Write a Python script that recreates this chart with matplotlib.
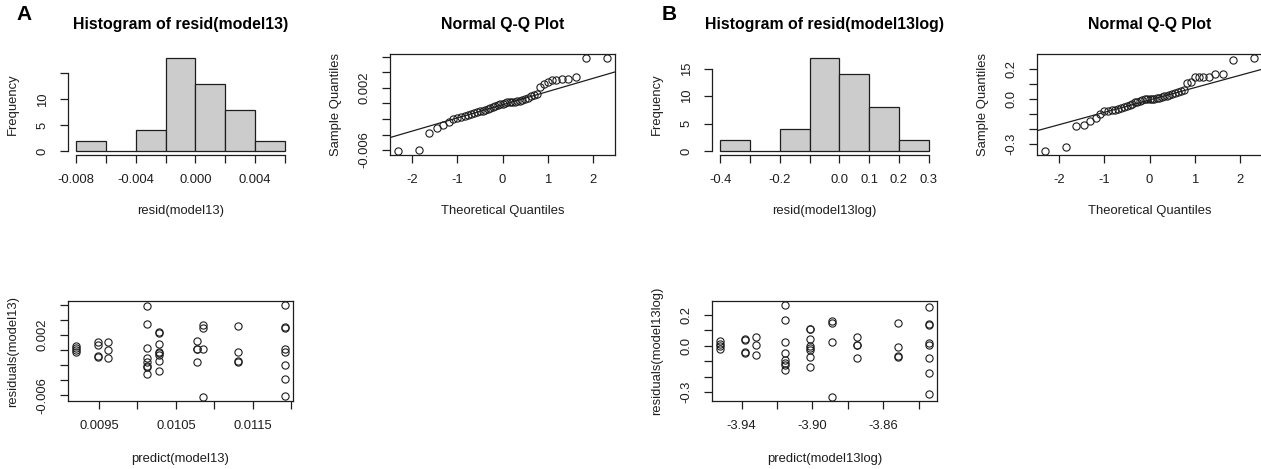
import statistics
import numpy as np
import matplotlib
matplotlib.use('Agg')
import matplotlib.pyplot as plt

plt.rcParams['font.family'] = ['Liberation Sans', 'DejaVu Sans']

# residuals of model13 (sorted)
resid_a = [-0.00616, -0.00603, -0.00376, -0.00314, -0.00275, -0.0024, -0.00198, -0.00192,
           -0.0017, -0.0016, -0.00153, -0.0014, -0.00122, -0.00109, -0.001, -0.00092,
           -0.00079, -0.00066, -0.00057, -0.00044, -0.0003, -0.00022, -0.00009, -0.00002,
           0.00009, 0.00013, 0.00017, 0.00018, 0.00022, 0.00026, 0.00035, 0.00048,
           0.00061, 0.00074, 0.00092, 0.00105, 0.00122, 0.00214, 0.00249, 0.0028,
           0.00297, 0.00306, 0.00314, 0.00319, 0.00336, 0.00581, 0.0059]
breaks_a = [-0.008, -0.006, -0.004, -0.002, 0.0, 0.002, 0.004, 0.006]

# residuals of model13log
resid_b = [-0.347, -0.32, -0.18, -0.169, -0.144, -0.124, -0.098, -0.08, -0.0756, -0.073,
           -0.069, -0.064, -0.058, -0.051, -0.047, -0.04, -0.031, -0.02, -0.016, -0.009,
           -0.004, -0.002, -0.001, 0.001, 0.002, 0.004, 0.007, 0.009, 0.013, 0.02, 0.024,
           0.031, 0.036, 0.04, 0.047, 0.053, 0.06, 0.107, 0.116, 0.147, 0.149, 0.149,
           0.149, 0.167, 0.169, 0.262, 0.276]
breaks_b = [-0.4, -0.3, -0.2, -0.1, 0.0, 0.1, 0.2, 0.3]

# residuals vs predicted, grouped by predicted value
pred_levels_a = [0.009203, 0.009491, 0.009614, 0.01012, 0.010277, 0.010771, 0.010854, 0.011317, 0.011919]
resid_groups_a = [[0.0005, 0.0002, 0.0, -0.0002],
                  [0.001, 0.0007, -0.0008, -0.0009],
                  [0.0011, 0.00004, -0.00105],
                  [0.00585, 0.00338, 0.00026, -0.00105, -0.0016, -0.00207, -0.00229, -0.00321],
                  [0.00237, 0.0022, 0.00075, -0.00022, -0.0004, -0.00066, -0.0015, -0.00272],
                  [0.00123, 0.00013, 0.0001, -0.00163],
                  [0.0033, 0.0029, 0.00013, -0.00624],
                  [0.0032, -0.0003, -0.00149, -0.00163],
                  [0.00598, 0.00308, 0.00295, 0.00013, -0.0003, -0.00198, -0.00378, -0.00602]]

pred_levels_b = [-3.952, -3.9381, -3.9317, -3.9154, -3.9011, -3.8889, -3.875, -3.8516, -3.8343]
resid_groups_b = [[0.028, 0.011, -0.004, -0.022],
                  [0.045, 0.034, -0.039, -0.045],
                  [0.054, 0.002, -0.06],
                  [0.265, 0.163, 0.024, -0.045, -0.092, -0.112, -0.127, -0.159],
                  [0.11, 0.105, 0.041, -0.004, -0.017, -0.026, -0.071, -0.138],
                  [0.161, 0.146, 0.024, -0.333],
                  [0.058, 0.006, 0.002, -0.08],
                  [0.144, -0.011, -0.067, -0.073],
                  [0.252, 0.142, 0.135, 0.017, 0.004, -0.082, -0.176, -0.31]]

# tick labels (R drops the ones that would overlap)
hist_a_xlabels = ['-0.008', '', '-0.004', '', '0.000', '', '0.004', '']
hist_yticks = [0, 5, 10, 15]
hist_a_ylabels = ['0', '5', '10', '']
hist_b_xlabels = ['-0.4', '', '-0.2', '', '0.0', '0.1', '0.2', '0.3']
hist_b_ylabels = ['0', '5', '10', '15']
qq_xticks = [-2, -1, 0, 1, 2]
res_a_yticks = [-0.006, -0.004, -0.002, 0.0, 0.002, 0.004, 0.006]
res_a_ylabels = ['-0.006', '', '', '', '0.002', '', '']
res_b_yticks = [-0.3, -0.2, -0.1, 0.0, 0.1, 0.2]
res_b_ylabels = ['-0.3', '', '', '0.0', '', '0.2']
pred_a_xticks = [0.0095, 0.0100, 0.0105, 0.0110, 0.0115, 0.0120]
pred_a_xlabels = ['0.0095', '', '0.0105', '', '0.0115', '']
pred_b_xticks = [-3.94, -3.92, -3.90, -3.88, -3.86, -3.84]
pred_b_xlabels = ['-3.94', '', '-3.90', '', '-3.86', '']

ink = '#1e1e1e'
W, H = 1261, 469
fig = plt.figure(figsize=(W / 100, H / 100), dpi=100)


def px_axes(left, top, width, height):
    return fig.add_axes([left / W, 1 - (top + height) / H, width / W, height / H])


def style(ax):
    ax.tick_params(direction='out', length=5.5, width=0.9, labelsize=9.4, pad=8.5,
                   colors=ink)
    for s in ax.spines.values():
        s.set_linewidth(0.9)
        s.set_color(ink)
    for lab in ax.get_yticklabels():
        lab.set_rotation(90)
        lab.set_va('center')


def hist_panel(ax, resid, breaks, xlabels, ylabels, title, xlabel):
    counts, _, _ = ax.hist(resid, bins=breaks, color='#cccccc', edgecolor=ink, linewidth=0.9)
    span = breaks[-1] - breaks[0]
    ax.set_xlim(breaks[0] - 0.04 * span, breaks[-1] + 0.04 * span)
    ax.set_ylim(-0.04 * counts.max(), 1.04 * counts.max())
    ax.set_xticks(breaks, xlabels)
    ax.set_yticks(hist_yticks, ylabels)
    ax.spines[['top', 'right']].set_visible(False)
    ax.spines['bottom'].set_bounds(breaks[0], breaks[-1])
    ax.spines['left'].set_bounds(hist_yticks[0], hist_yticks[-1])
    style(ax)
    ax.set_title(title, fontsize=11.4, fontweight='bold', pad=18, color='black')
    ax.set_xlabel(xlabel, fontsize=9.4, labelpad=13.5, color=ink)
    ax.set_ylabel('Frequency', fontsize=9.4, labelpad=12.5, color=ink)


def qq_panel(ax, resid, yticks, ylabels):
    n = len(resid)
    nd = statistics.NormalDist()
    theo = [nd.inv_cdf((i - 0.5) / n) for i in range(1, n + 1)]
    ax.plot(theo, sorted(resid), 'o', mfc='none', mec=ink, ms=5.2, mew=0.8)
    ax.margins(0.04)
    q1, q3 = np.quantile(resid, [0.25, 0.75])
    z1, z3 = nd.inv_cdf(0.25), nd.inv_cdf(0.75)
    slope = (q3 - q1) / (z3 - z1)
    ax.axline((0, q1 - slope * z1), slope=slope, color=ink, linewidth=0.9)
    ax.set_xticks(qq_xticks, [str(t) for t in qq_xticks])
    ax.set_yticks(yticks, ylabels)
    style(ax)
    ax.set_title('Normal Q-Q Plot', fontsize=11.4, fontweight='bold', pad=18, color='black')
    ax.set_xlabel('Theoretical Quantiles', fontsize=9.4, labelpad=13.5, color=ink)
    ax.set_ylabel('Sample Quantiles', fontsize=9.4, labelpad=12, color=ink)


def resid_panel(ax, levels, groups, xticks, xlabels, yticks, ylabels, xlabel, ylabel):
    xs = [lv for lv, g in zip(levels, groups) for _ in g]
    ys = [v for g in groups for v in g]
    ax.plot(xs, ys, 'o', mfc='none', mec=ink, ms=5.2, mew=0.8)
    ax.margins(0.04)
    ax.set_xticks(xticks, xlabels)
    ax.set_yticks(yticks, ylabels)
    style(ax)
    ax.set_xlabel(xlabel, fontsize=9.4, labelpad=15, color=ink)
    ax.set_ylabel(ylabel, fontsize=9.4, labelpad=12.5, color=ink)


cols = [68, 390, 712, 1037]
aw = 225

ax1 = px_axes(cols[0], 54, aw, 101)
hist_panel(ax1, resid_a, breaks_a, hist_a_xlabels, hist_a_ylabels,
           'Histogram of resid(model13)', 'resid(model13)')

ax2 = px_axes(cols[1], 54, aw, 101)
qq_panel(ax2, resid_a, res_a_yticks, res_a_ylabels)

ax3 = px_axes(cols[2], 54, aw, 101)
hist_panel(ax3, resid_b, breaks_b, hist_b_xlabels, hist_b_ylabels,
           'Histogram of resid(model13log)', 'resid(model13log)')

ax4 = px_axes(cols[3], 54, aw, 101)
qq_panel(ax4, resid_b, res_b_yticks, res_b_ylabels)

ax5 = px_axes(cols[0], 301, aw, 100)
resid_panel(ax5, pred_levels_a, resid_groups_a, pred_a_xticks, pred_a_xlabels,
            res_a_yticks, res_a_ylabels, 'predict(model13)', 'residuals(model13)')

ax6 = px_axes(cols[2], 301, aw, 100)
resid_panel(ax6, pred_levels_b, resid_groups_b, pred_b_xticks, pred_b_xlabels,
            res_b_yticks, res_b_ylabels, 'predict(model13log)', 'residuals(model13log)')

fig.text(24 / W, 1 - 15 / H, 'A', ha='center', va='center', fontsize=15, fontweight='bold')
fig.text(669 / W, 1 - 15 / H, 'B', ha='center', va='center', fontsize=15, fontweight='bold')

fig.savefig('out.png', dpi=100, facecolor='white')
